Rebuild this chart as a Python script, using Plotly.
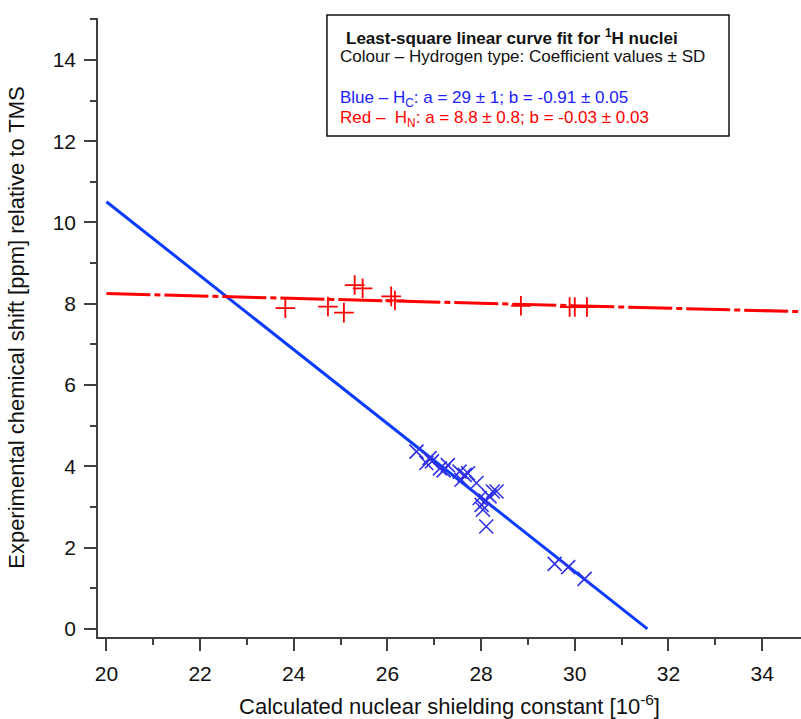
import plotly.graph_objects as go

# Calculated shielding constants (x) and experimental shifts (y)
hc_sigma = [26.62, 26.83, 26.90, 26.95, 27.12, 27.20, 27.29, 27.54, 27.58, 27.65,
            27.72, 27.90, 27.97, 28.01, 28.04, 28.10, 28.18, 28.25, 28.33, 28.11,
            29.57, 29.86, 30.21]
hc_shift = [4.36, 4.08, 4.20, 4.12, 3.95, 3.90, 4.03, 3.87, 3.67, 3.79,
            3.83, 3.59, 3.22, 3.05, 2.93, 3.15, 3.26, 3.38, 3.38, 2.52,
            1.60, 1.52, 1.23]

hn_sigma = [23.82, 24.73, 25.07, 25.30, 25.47, 26.08, 26.16, 28.85, 29.89, 30.00, 30.26]
hn_shift = [7.89, 7.93, 7.78, 8.46, 8.38, 8.18, 8.08, 7.95, 7.92, 7.92, 7.92]

# Linear fit coefficients: shift = a + b * sigma
hc_fit = {"a": 28.71, "b": -0.91, "x": [20.0, 31.55]}
hn_fit = {"a": 8.85, "b": -0.03, "x": [20.0, 34.83]}

x_ticks = [20, 22, 24, 26, 28, 30, 32, 34]
y_ticks = [0, 2, 4, 6, 8, 10, 12, 14]

BLUE_LINE = "#0a3cff"
BLUE_MARK = "#3030e8"
BLUE_TEXT = "#2020ff"
RED = "#ff0000"
AXIS = "#404040"
FONT = "Liberation Sans, Arial, sans-serif"

fig = go.Figure()

fig.add_trace(go.Scatter(
    x=hc_fit["x"], y=[hc_fit["a"] + hc_fit["b"] * v for v in hc_fit["x"]],
    mode="lines", line=dict(color=BLUE_LINE, width=3), showlegend=False,
))
fig.add_trace(go.Scatter(
    x=hn_fit["x"], y=[hn_fit["a"] + hn_fit["b"] * v for v in hn_fit["x"]],
    mode="lines", line=dict(color=RED, width=3, dash="44px,4px,6px,4px"),
    showlegend=False,
))
fig.add_trace(go.Scatter(
    x=hc_sigma, y=hc_shift, mode="markers",
    marker=dict(symbol="x-thin", size=14, line=dict(color=BLUE_MARK, width=1.6)),
    showlegend=False,
))
fig.add_trace(go.Scatter(
    x=hn_sigma, y=hn_shift, mode="markers",
    marker=dict(symbol="cross-thin", size=14, line=dict(color=RED, width=1.8)),
    showlegend=False,
))

axis_common = dict(
    showgrid=False, zeroline=False, showline=True, linecolor=AXIS, linewidth=1.5,
    ticks="outside", ticklen=12, tickwidth=1.5, tickcolor=AXIS,
    tickfont=dict(size=21, color="#111111", family=FONT),
    minor=dict(ticks="outside", ticklen=6, tickwidth=1.5, tickcolor=AXIS, dtick=1),
)

fig.update_xaxes(
    range=[19.82, 34.83], tickvals=x_ticks, ticktext=[str(v) for v in x_ticks],
    ticklabelstandoff=5,
    title=dict(text="Calculated nuclear shielding constant [10<sup>-6</sup>]",
               font=dict(size=22, color="#111111", family=FONT), standoff=18),
    **axis_common,
)
fig.update_yaxes(
    range=[-0.2, 15.03], tickvals=y_ticks, ticktext=[str(v) for v in y_ticks],
    ticklabelstandoff=4,
    title=dict(text="Experimental chemical shift [ppm] relative to TMS",
               font=dict(size=22, color="#111111", family=FONT), standoff=22),
    **axis_common,
)

# Fit-summary box
fig.add_shape(type="rect", xref="paper", yref="paper",
              x0=0.3257, x1=0.8976, y0=0.8094, y1=1.0048,
              line=dict(color="#111111", width=1.5), fillcolor="white", layer="above")

box_lines = [
    ("<b>Least-square linear curve fit for <sup>1</sup>H nuclei</b>", "#111111", 0.3499, 0.9698),
    ("Colour – Hydrogen type: Coefficient values ± SD", "#111111", 0.3414, 0.9375),
    ("Blue – H<sub>C</sub>: a = 29 ± 1; b = -0.91 ± 0.05", BLUE_TEXT, 0.3414, 0.8695),
    ("Red –  H<sub>N</sub>: a = 8.8 ± 0.8; b = -0.03 ± 0.03", RED, 0.3414, 0.8370),
]
for text, color, x, y in box_lines:
    fig.add_annotation(text=text, xref="paper", yref="paper", x=x, y=y,
                       xanchor="left", yanchor="middle", showarrow=False,
                       font=dict(size=17, color=color, family=FONT))

fig.update_layout(
    width=801, height=719,
    margin=dict(l=98, r=0, t=18, b=82),
    plot_bgcolor="white", paper_bgcolor="white",
    font=dict(family=FONT),
)

fig.write_html("out.html")
